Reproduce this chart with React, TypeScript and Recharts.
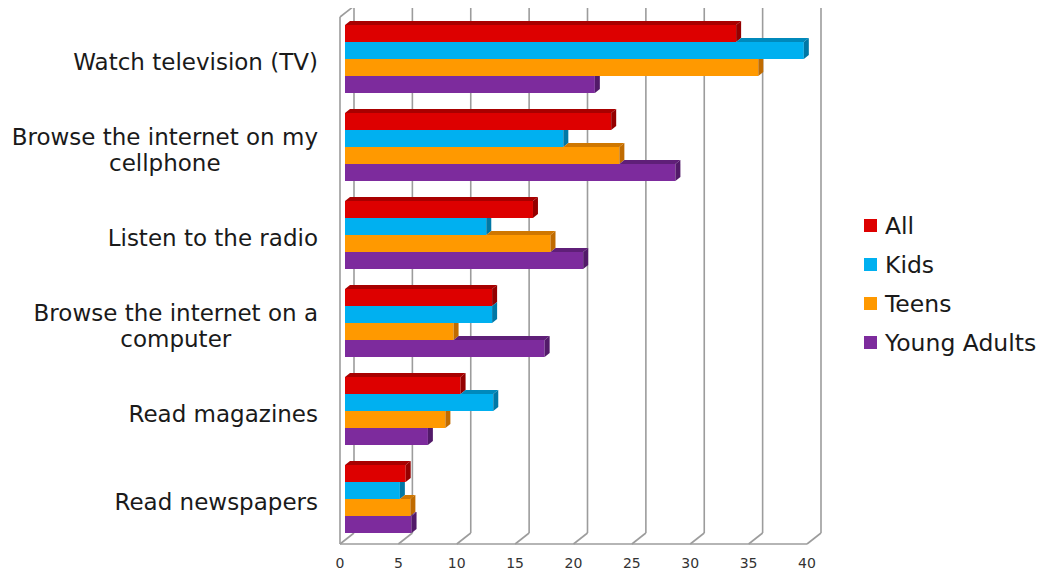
import React from "react";
import { BarChart, Bar, XAxis, YAxis, CartesianGrid, Legend } from "recharts";

// Activity categories, top to bottom
const categories = [
  "Watch television (TV)",
  "Browse the internet on my cellphone",
  "Listen to the radio",
  "Browse the internet on a computer",
  "Read magazines",
  "Read newspapers",
];

// Share per audience group (%)
const allValues = [33.5, 22.8, 16.1, 12.6, 9.9, 5.2];
const kidsValues = [39.3, 18.7, 12.1, 12.6, 12.7, 4.7];
const teensValues = [35.4, 23.5, 17.6, 9.3, 8.6, 5.6];
const youngAdultValues = [21.4, 28.3, 20.4, 17.1, 7.1, 5.7];

const xTicks = [0, 5, 10, 15, 20, 25, 30, 35, 40];

const FONT = "'DejaVu Sans', sans-serif";
const TEXT_COLOR = "#1a1a1a";
const GRID_COLOR = "#9c9c9c";

const SERIES = [
  { key: "all", name: "All", front: "#dd0000", top: "#a80000", side: "#940000" },
  { key: "kids", name: "Kids", front: "#00b0f0", top: "#0089bb", side: "#0078a6" },
  { key: "teens", name: "Teens", front: "#ff9900", top: "#cf7700", side: "#c06b00" },
  { key: "youngAdults", name: "Young Adults", front: "#7d2b9d", top: "#5f1f78", side: "#521a69" },
];

const data = categories.map((label, i) => ({
  label,
  all: allValues[i],
  kids: kidsValues[i],
  teens: teensValues[i],
  youngAdults: youngAdultValues[i],
}));

// depth of the 3D extrusion
const DX = 5;
const DY = 4;

// Bar with a top face and right side face; faces hidden by the bar above are trimmed
function makeBarShape(seriesIdx: number) {
  return (props: any) => {
    const { x, y, width, height, payload } = props;
    const s = SERIES[seriesIdx];
    const v = payload[s.key];
    const ppu = v ? width / v : 0;
    const xEnd = x + width;
    const aboveEnd = seriesIdx > 0 ? x + payload[SERIES[seriesIdx - 1].key] * ppu : -Infinity;

    const topStart = Math.max(x, aboveEnd);
    const topFace =
      xEnd > topStart
        ? `${topStart},${y} ${xEnd},${y} ${xEnd + DX},${y - DY} ${topStart + DX},${y - DY}`
        : null;

    const a = Math.min(Math.max(aboveEnd, xEnd), xEnd + DX);
    const sideFace = `${xEnd},${y} ${a},${y} ${xEnd + DX},${y - ((xEnd + DX - a) * DY) / DX} ${xEnd + DX},${
      y + height - DY
    } ${xEnd},${y + height}`;

    return (
      <g>
        <rect x={x} y={y} width={width} height={height} fill={s.front} />
        {topFace && <polygon points={topFace} fill={s.top} />}
        <polygon points={sideFace} fill={s.side} />
      </g>
    );
  };
}

let measureCtx: CanvasRenderingContext2D | null = null;
function textWidth(text: string, font: string) {
  if (!measureCtx) measureCtx = document.createElement("canvas").getContext("2d");
  if (!measureCtx) return text.length * 13;
  measureCtx.font = font;
  return measureCtx.measureText(text).width;
}

const LABEL_SIZE = 23;
const LABEL_FONT = `${LABEL_SIZE}px 'DejaVu Sans'`;

function wrapLabel(text: string, maxW: number) {
  const words = text.split(" ");
  const lines: string[] = [];
  let cur = "";
  words.forEach((w) => {
    const next = cur ? cur + " " + w : w;
    if (cur && textWidth(next, LABEL_FONT) > maxW) {
      lines.push(cur);
      cur = w;
    } else cur = next;
  });
  if (cur) lines.push(cur);
  return lines;
}

const CategoryTick = (props: any) => {
  const { x, y, payload } = props;
  const lines = wrapLabel(String(payload.value), 315);
  const maxW = Math.max(...lines.map((l) => textWidth(l, LABEL_FONT)));
  const right = x - 19;
  const cx = right - maxW / 2;
  const lh = 26;
  const base = y + 4 - ((lines.length - 1) * lh) / 2 + 8;
  return (
    <g>
      {lines.map((l, i) => (
        <text
          key={i}
          x={cx}
          y={base + i * lh}
          textAnchor="middle"
          fontFamily={FONT}
          fontSize={LABEL_SIZE}
          fill={TEXT_COLOR}
        >
          {l}
        </text>
      ))}
    </g>
  );
};

const ValueTick = (props: any) => {
  const { x, y, payload } = props;
  return (
    <text x={x - 5} y={y + 18} textAnchor="middle" fontFamily={FONT} fontSize={14} fill="#333">
      {payload.value}
    </text>
  );
};

// Back wall gridlines, floor diagonals and the left wall
const GridLine = (props: any) => {
  const { x1, y1, y2, index, key } = props;
  const bx = x1 + 9;
  return (
    <g key={key}>
      <line x1={bx} y1={y1 - 8} x2={bx} y2={y2 - 9} stroke={GRID_COLOR} strokeWidth={1.6} />
      <line x1={bx} y1={y2 - 9} x2={x1 - 5} y2={y2 + 2} stroke={GRID_COLOR} strokeWidth={1.6} />
      {index === 0 && (
        <>
          <line x1={x1 - 5} y1={y1 + 3} x2={x1 - 5} y2={y2 + 2} stroke={GRID_COLOR} strokeWidth={1.6} />
          <line x1={x1 - 5} y1={y1 + 3} x2={bx} y2={y1 - 8} stroke={GRID_COLOR} strokeWidth={1.6} />
        </>
      )}
    </g>
  );
};

const LegendContent = (props: any) => {
  const { payload = [] } = props;
  return (
    <div style={{ fontFamily: FONT, fontSize: 23.5, color: TEXT_COLOR }}>
      {payload.map((p: any) => (
        <div key={p.value} style={{ display: "flex", alignItems: "center", height: 39 }}>
          <span
            style={{ width: 13, height: 13, background: p.color, marginRight: 8, display: "inline-block" }}
          />
          <span style={{ whiteSpace: "nowrap" }}>{p.value}</span>
        </div>
      ))}
    </div>
  );
};

export default function App() {
  return (
    <BarChart
      width={1036}
      height={564}
      data={data}
      layout="vertical"
      margin={{ top: 6, right: 232, bottom: 2, left: 0 }}
      barCategoryGap={11}
      barGap={0}
    >
      <CartesianGrid horizontal={false} vertical={GridLine} />
      <XAxis
        type="number"
        domain={[0, 40]}
        ticks={xTicks}
        height={28}
        tickLine={false}
        axisLine={{ stroke: GRID_COLOR, strokeWidth: 1.6, transform: "translate(-5,2)" } as any}
        tick={<ValueTick />}
        interval={0}
      />
      <YAxis
        type="category"
        dataKey="label"
        width={337}
        axisLine={false}
        tickLine={false}
        tick={<CategoryTick />}
        interval={0}
      />
      <Legend
        layout="vertical"
        align="center"
        verticalAlign="middle"
        content={<LegendContent />}
        wrapperStyle={{ left: 856, top: 198, width: 190 }}
      />
      {SERIES.map((s, i) => (
        <Bar
          key={s.key}
          dataKey={s.key}
          name={s.name}
          fill={s.front}
          shape={makeBarShape(i)}
          isAnimationActive={false}
        />
      ))}
    </BarChart>
  );
}
